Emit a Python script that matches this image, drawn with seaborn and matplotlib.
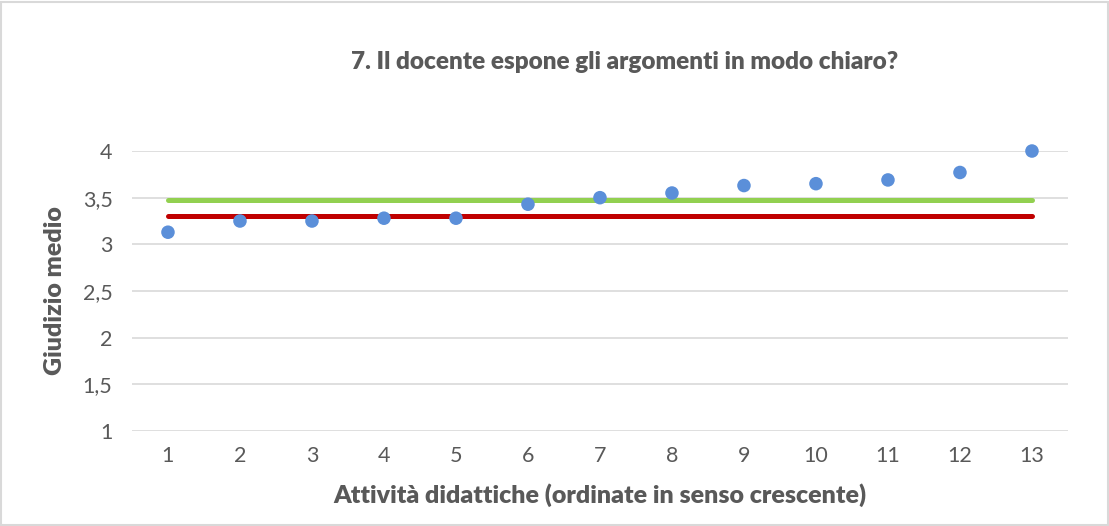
import numpy as np
import pandas as pd
import matplotlib
matplotlib.use('Agg')
import matplotlib.pyplot as plt
import seaborn as sns

# ---------------- data ----------------
attivita = list(range(1, 14))
giudizio = [3.13, 3.25, 3.25, 3.28, 3.28, 3.43, 3.50, 3.55, 3.63, 3.65, 3.69, 3.77, 4.00]
media_verde = 3.48
media_rossa = 3.30
yticks = [1, 1.5, 2, 2.5, 3, 3.5, 4]
ytick_labels = ['1', '1,5', '2', '2,5', '3', '3,5', '4']

df = pd.DataFrame({'attivita': attivita, 'giudizio': giudizio})
df['verde'] = np.full(len(attivita), media_verde)
df['rossa'] = np.full(len(attivita), media_rossa)

# ---------------- plot ----------------
sns.set_style('white')
plt.rcParams['font.family'] = ['Lato', 'DejaVu Sans']

fig = plt.figure(figsize=(11.09, 5.26), dpi=100)
ax = fig.add_axes([0.119, 0.1806, 0.844, 0.5323])

sns.lineplot(data=df, x='attivita', y='verde', color='#92D050', linewidth=3.6,
             solid_capstyle='round', ax=ax, zorder=2)
sns.lineplot(data=df, x='attivita', y='rossa', color='#C00000', linewidth=3.6,
             solid_capstyle='round', ax=ax, zorder=2)
sns.scatterplot(data=df, x='attivita', y='giudizio', color='#5B8FD9', s=95,
                edgecolor='none', ax=ax, zorder=3, clip_on=False)

ax.set_xlim(0.5, 13.5)
ax.set_ylim(1, 4)
ax.set_xticks(attivita)
ax.set_yticks(yticks)
ax.set_yticklabels(ytick_labels)
ax.tick_params(axis='both', length=0, labelsize=15.5, labelcolor='#595959')
ax.tick_params(axis='y', pad=14)
ax.tick_params(axis='x', pad=11)
ax.grid(axis='y', color='#D9D9D9', linewidth=1.2, zorder=0)
ax.set_axisbelow(True)
for sp in ax.spines.values():
    sp.set_visible(False)

ax.set_xlabel('Attività didattiche (ordinate in senso crescente)', fontsize=18,
              fontweight='heavy', color='#595959', labelpad=12)
ax.set_ylabel('Giudizio medio', fontsize=18, fontweight='heavy', color='#595959',
              labelpad=12)
fig.text(0.5636, 0.882, '7. Il docente espone gli argomenti in modo chiaro?',
         ha='center', va='center', fontsize=17.5, fontweight='heavy', color='#595959')

# chart border
fig.patches.append(plt.Rectangle((0.001, 0.001), 0.998, 0.996, transform=fig.transFigure,
                                 fill=False, edgecolor='#D9D9D9', linewidth=1.5))

fig.savefig('out.png', dpi=100)
